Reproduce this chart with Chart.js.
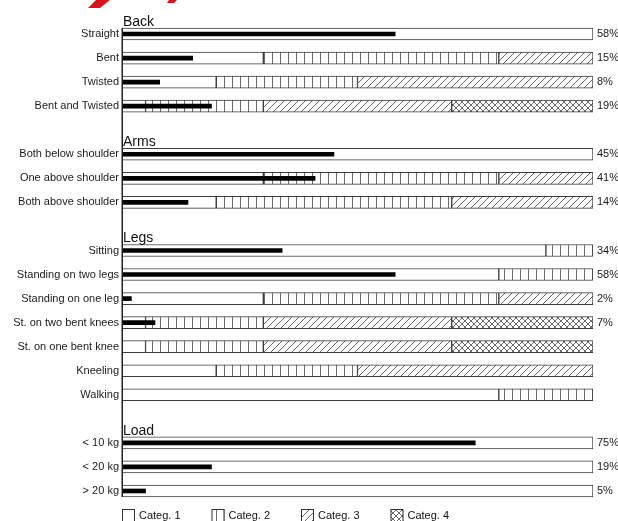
<!DOCTYPE html>
<html><head><meta charset="utf-8">
<script src="https://cdn.jsdelivr.net/npm/chart.js@4"></script>
<style>html,body{margin:0;padding:0;background:#fff}#wrap{width:618px;height:521px;position:relative}</style>
</head><body><div id="wrap"><canvas id="c"></canvas></div>
<script>
// ---- data ----
const groupNames = ["Back", "Arms", "Legs", "Load"];
const backRows = ["Straight", "Bent", "Twisted", "Bent and Twisted"];
const armsRows = ["Both below shoulder", "One above shoulder", "Both above shoulder"];
const legsRows = ["Sitting", "Standing on two legs", "Standing on one leg", "St. on two bent knees", "St. on one bent knee", "Kneeling", "Walking"];
const loadRows = ["< 10 kg", "< 20 kg", "> 20 kg"];
const categ1 = [100, 30, 20, 5,   100, 30, 20,   90, 80, 30, 5, 5, 20, 80,   100, 100, 100];
const categ2 = [null, 50, 30, 25, null, 50, 50,  10, 20, 50, 25, 25, 30, 20,  null, null, null];
const categ3 = [null, 20, 50, 40, null, 20, 30,  null, null, 20, 40, 40, 50, null, null, null, null];
const categ4 = [null, null, null, 30, null, null, null, null, null, null, 30, 30, null, null, null, null, null];
const percent = [58, 15, 8, 19,   45, 41, 14,   34, 58, 2, 7, null, null, null,   75, 19, 5];
const legendLabels = ["Categ. 1", "Categ. 2", "Categ. 3", "Categ. 4"];

// ---- build full category list with a blank slot between groups ----
const rowGroups = [backRows, armsRows, legsRows, loadRows];
const labels = [];
const groupFirst = [];
rowGroups.forEach((g, gi) => {
  if (gi > 0) labels.push("");
  groupFirst.push(labels.length);
  g.forEach(r => labels.push(r));
});
function spread(arr) {
  const out = []; let k = 0;
  rowGroups.forEach((g, gi) => {
    if (gi > 0) out.push(null);
    g.forEach(() => out.push(arr[k++]));
  });
  return out;
}
const pctLabels = spread(percent).map(v => v == null ? "" : v + "%");

// ---- patterns ----
function makePattern(kind) {
  const s = kind === 'v' ? 8 : (kind === 'x' ? 6 : 7);
  const c = document.createElement('canvas');
  c.width = s; c.height = s;
  const g = c.getContext('2d');
  g.fillStyle = '#fff'; g.fillRect(0, 0, s, s);
  g.strokeStyle = '#6a6a6a'; g.lineWidth = 1;
  if (kind === 'v') {
    g.beginPath(); g.moveTo(0.5, 0); g.lineTo(0.5, s); g.stroke();
  }
  if (kind === 'd' || kind === 'x') {
    g.beginPath();
    g.moveTo(0, s); g.lineTo(s, 0);
    g.moveTo(-1, 1); g.lineTo(1, -1);
    g.moveTo(s - 1, s + 1); g.lineTo(s + 1, s - 1);
    g.stroke();
  }
  if (kind === 'x') {
    g.beginPath();
    g.moveTo(0, 0); g.lineTo(s, s);
    g.moveTo(-1, s - 1); g.lineTo(1, s + 1);
    g.moveTo(s - 1, -1); g.lineTo(s + 1, 1);
    g.stroke();
  }
  return c;
}
const ctx = document.getElementById('c').getContext('2d');
const fills = [
  '#ffffff',
  ctx.createPattern(makePattern('v'), 'repeat'),
  ctx.createPattern(makePattern('d'), 'repeat'),
  ctx.createPattern(makePattern('x'), 'repeat')
];

const FONT = '"Liberation Sans", Arial, sans-serif';

function segDataset(label, data, fill) {
  return {
    label, data: spread(data), backgroundColor: fill,
    borderColor: '#3c3c3c', borderWidth: 1, borderSkipped: false,
    barThickness: 12, stack: 's', grouped: false, order: 1, yAxisID: 'y'
  };
}

const extras = {
  id: 'extras',
  afterDatasetsDraw(chart) {
    const c = chart.ctx, a = chart.chartArea, ys = chart.scales.y;
    c.save();
    // left axis line spanning the bars
    const top = ys.getPixelForValue(0) - 6;
    const bot = ys.getPixelForValue(labels.length - 1) + 6;
    c.strokeStyle = '#222'; c.lineWidth = 1.5;
    c.beginPath(); c.moveTo(a.left + 0.25, top); c.lineTo(a.left + 0.25, bot); c.stroke();
    // group headers
    c.fillStyle = '#111'; c.font = '14px ' + FONT;
    c.textAlign = 'left'; c.textBaseline = 'bottom';
    groupNames.forEach((n, i) => {
      c.fillText(n, a.left + 1, ys.getPixelForValue(groupFirst[i]) - 5);
    });
    // legend
    c.font = '11px ' + FONT; c.textBaseline = 'middle';
    legendLabels.forEach((t, i) => {
      const x = a.left + i * 89.5, y = 509;
      c.fillStyle = fills[i]; c.fillRect(x, y, 13, 13);
      c.strokeStyle = '#333'; c.lineWidth = 1; c.strokeRect(x + 0.5, y + 0.5, 12, 12);
      c.fillStyle = '#111'; c.fillText(t, x + 17, y + 7);
    });
    // red decoration at top
    c.fillStyle = '#d0161b';
    c.beginPath(); c.moveTo(96, 0); c.lineTo(110, 0); c.lineTo(100, 8); c.lineTo(88, 8); c.closePath(); c.fill();
    c.beginPath(); c.moveTo(169, 0); c.lineTo(177, 0); c.lineTo(174, 3); c.lineTo(167, 3); c.closePath(); c.fill();
    c.restore();
  }
};

new Chart(ctx, {
  type: 'bar',
  data: {
    labels,
    datasets: [
      { label: 'pct', data: spread(percent), backgroundColor: '#000', borderWidth: 0,
        barThickness: 4, stack: 'p', grouped: false, order: 0, yAxisID: 'y' },
      segDataset(legendLabels[0], categ1, fills[0]),
      segDataset(legendLabels[1], categ2, fills[1]),
      segDataset(legendLabels[2], categ3, fills[2]),
      segDataset(legendLabels[3], categ4, fills[3])
    ]
  },
  options: {
    indexAxis: 'y',
    responsive: true, maintainAspectRatio: false, animation: false,
    layout: { padding: { top: 22, bottom: 18, left: 0, right: 0 } },
    plugins: { legend: { display: false }, tooltip: { enabled: false } },
    scales: {
      x: { stacked: true, min: 0, max: 100, display: false },
      y: {
        stacked: true, position: 'left', offset: true,
        grid: { display: false, drawTicks: false }, border: { display: false },
        ticks: { color: '#1a1a1a', font: { family: FONT, size: 11 }, padding: 3, autoSkip: false },
        afterFit(s) { s.width = 122; }
      },
      y2: {
        type: 'category', position: 'right', offset: true,
        grid: { display: false, drawTicks: false }, border: { display: false },
        ticks: { color: '#1a1a1a', font: { family: FONT, size: 11 }, padding: 4, autoSkip: false,
          callback: (v, i) => pctLabels[i] },
        afterFit(s) { s.width = 25; }
      }
    }
  },
  plugins: [extras]
});
</script>
</body></html>
